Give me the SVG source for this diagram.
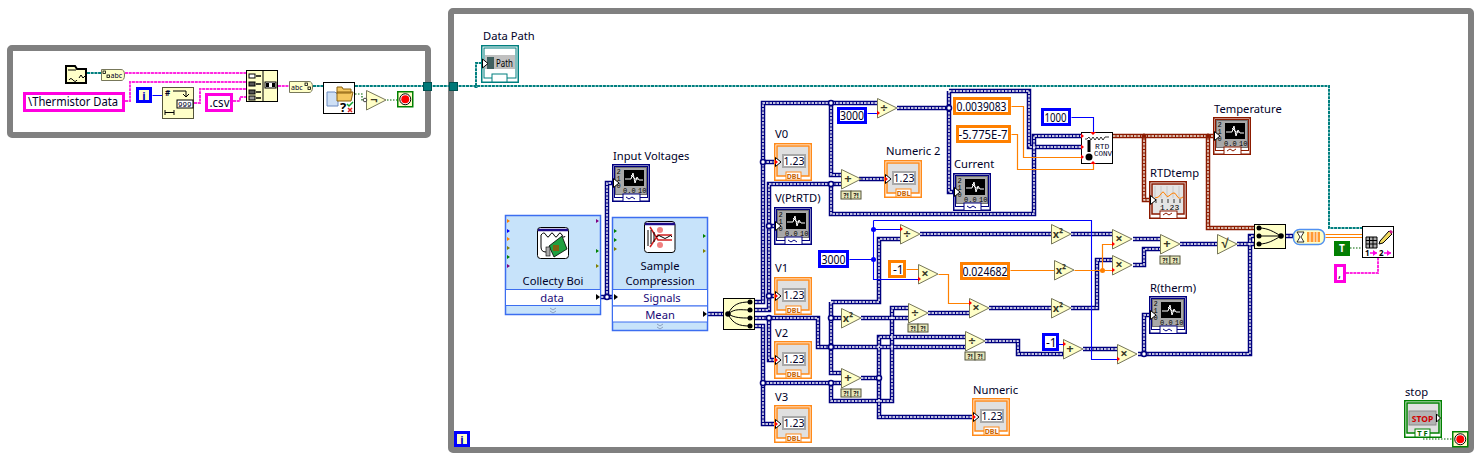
<svg xmlns="http://www.w3.org/2000/svg" width="1481" height="462" viewBox="0 0 1481 462">
<style>
text{font-family:"Noto Sans","Liberation Sans",sans-serif;font-size:11.200px;fill:#000028}
.c{text-anchor:middle}
.frame{fill:none;stroke:#808080;stroke-width:6}
.w{fill:none}
.wo{stroke:#00007f;stroke-width:4.500}
.wi{stroke:#fff;stroke-width:1.400;stroke-dasharray:2.500 1}
.bo{stroke:#8b1a00;stroke-width:4.500}
.bi{stroke:#f4ece0;stroke-width:1.400;stroke-dasharray:2.500 1}
.blue{fill:none;stroke:#0000ff;stroke-width:1.100}
.orange{fill:none;stroke:#ff8000;stroke-width:1.200}
.teal{fill:none;stroke:#007f7f;stroke-width:2;stroke-dasharray:3 .7}
.pink{fill:none;stroke:#ff28e0;stroke-width:2;stroke-dasharray:3 .7}
.green{fill:none;stroke:#006400;stroke-width:1.200;stroke-dasharray:1.500 1.500}
.jn{fill:#fff;stroke:#00007f;stroke-width:1.600}
.jnb{fill:#8b1a00;stroke:#8b1a00}
.jno{fill:#ff8000}
.jnu{fill:#0000ff}
.tri{fill:#ffffc8;stroke:#77775a;stroke-width:1}
.op{font-size:13px;font-weight:bold;fill:#3a3a28;text-anchor:middle}
.sq{font-size:11px;font-weight:bold;fill:#3a3a28;text-anchor:middle}
.cream{fill:#ffffc8;stroke:#000;stroke-width:1}
.white{fill:#fff;stroke:#000;stroke-width:1}
.cb{fill:#fff;stroke:#0000ff;stroke-width:3}
.co{fill:#fff;stroke:#ff8000;stroke-width:3}
.cp{fill:#fff;stroke:#ff00e0;stroke-width:3}
.panel{fill:#c7e3fa;stroke:#3c6ef0;stroke-width:1.500}
.row{fill:#fff;stroke:#3c6ef0;stroke-width:1}
.rowt{fill:#1a0a78;text-anchor:middle}
.tiny{font-size:7px;fill:#000;font-family:"Liberation Mono",monospace}
.q{fill:#e6e6b8;stroke:#55553c;stroke-width:1}
.qt{font-size:7px;font-weight:bold;text-anchor:middle;fill:#222}
.red{fill:#ff0000}
.tun{fill:#007878;stroke:#005050}
.dis{font-size:10.500px;text-anchor:middle}
.dbl{font-size:7px;font-weight:bold;fill:#c86400;text-anchor:middle}
</style>
<defs>
<polygon id="t" class="tri" points="0.5,0.5 20,10 0.5,20"/>
<polygon id="r" class="red" points="0,-2.5 3,0 0,2.5"/>
<g id="qq"><rect class="q" x="0" y="0" width="10" height="8"/><rect class="q" x="10" y="0" width="10" height="8"/><text class="qt" x="5" y="6.5">?!</text><text class="qt" x="15" y="6.5">?!</text></g>
<g id="num">
<rect x="0.75" y="0.75" width="36.5" height="36.5" fill="#fff" stroke="#ff8a1a" stroke-width="1.5"/>
<rect x="3" y="3" width="32" height="30" fill="#e0e0e0" stroke="#ff8a1a" stroke-width="1.5"/>
<rect x="8" y="11" width="24" height="14" fill="#a8a8a8"/>
<rect x="10" y="13" width="20" height="10" fill="#fff"/>
<rect x="12" y="29" width="15" height="8" fill="#fff" stroke="#ff8a1a"/>
<polygon points="1.5,14.5 7,19 1.5,23.5" fill="#fff" stroke="#000"/>
</g>
<g id="scr">
<rect x="3.5" y="3.5" width="31" height="27" fill="#a8a8a8" stroke="#707070"/>
<rect x="12" y="6" width="20" height="16" fill="#000"/>
<path d="M13 15h6l2-6 2 10 2-6 2 3h4M19 11l4 4 3 0" fill="none" stroke="#fff" stroke-width="1"/>
<text class="tiny" x="4.5" y="10">2</text><text class="tiny" x="4.5" y="17">1</text><text class="tiny" x="4.5" y="24">0</text>
<text class="tiny" x="11" y="29">0.0</text><text class="tiny" x="26" y="29">10</text>
<polygon points="1.5,14.5 7,19 1.5,23.5" fill="#fff" stroke="#000"/>
</g>
<g id="graph">
<rect x="0.75" y="0.75" width="36.5" height="36.5" fill="#fff" stroke="#00007f" stroke-width="1.5"/>
<rect x="2.5" y="2.5" width="33" height="31" fill="#fff" stroke="#00007f"/>
<use href="#scr"/>
<rect x="11" y="30" width="17" height="7.5" fill="#fff" stroke="#00007f"/>
<path d="M14 33l3 2 3-2 3 2" fill="none" stroke="#00007f"/>
</g>
<g id="stp"><rect x="0.75" y="0.75" width="15" height="15" fill="#ffffc8" stroke="#008000" stroke-width="1.5"/><circle cx="8.25" cy="8.25" r="5.5" fill="#fff" stroke="#000"/><circle cx="8.25" cy="8.25" r="4" fill="#ff0000"/></g>
<path id="dw" d="M755 302H763V103H877M831 103V175H841M763 162H775M755 310H769V184H841M769 226H775M769 296H775M831 184V214H1034V136H1081M755 318H818V347H965M769 318V360H775M755 326H763V424H775M763 383H841M831 302V373H841M831 302H879V239H900M831 318H841M831 383V401H892V308H908M861 318H908M861 378H879V337H965M879 378V417H973M928 313H969M985 341H1018V354H1063M1083 349H1117M897 108H949M949 91V192H955M949 91H1029V147H1081M859 179H885M920 234H1051M1071 234H1112M989 308H1051M1071 308H1097V260H1112M1133 239H1160M1133 265H1144V249H1160M1180 244H1217M1237 244H1254M1138 354H1250V236H1254M1144 354V315H1152M1286 236H1293M601 297H612M607 297V183H614M708 314H723"/>
<path id="bw" d="M1113 136H1215M1144 136V200H1152M1208 136V228H1254"/>
</defs>

<rect width="1481" height="462" fill="#fff"/>
<g id="frames">
<rect class="frame" x="10" y="48" width="418" height="87" rx="2"/>
<rect class="frame" x="451" y="11" width="1020" height="439" rx="2"/>
</g>

<g id="connectors">
<use href="#dw" class="w wo"/><use href="#dw" class="w wi"/>
<use href="#bw" class="w bo"/><use href="#bw" class="w bi"/>
<path class="teal" d="M87 73H101M313 86H323M355 86H1329V228H1362M476 86V63H484"/>
<path class="pink" d="M125 73H246M125 101H130V82H246M194 103H200V89H246M233 101H240V97H246M278 86H289M1346 273H1378V257"/>
<g transform="translate(.5,.5)">
<path class="blue" d="M152 95H162M849 259H873M873 220V279H918M873 229H900M873 220H1091V359H1117M867 113H877M1071 117H1093V132M1058 344H1063"/>
<path class="orange" d="M906 269H918M938 274H948V303H969M1010 270H1054M1074 270H1112M1102 270V244H1112M1011 106H1023V157H1081M1011 134H1017V169H1093V163M1325 234H1362M1325 237H1362"/>
</g>
<path class="green" d="M355 94H362V100H366M387 100H397M1350 248H1362M1423 439H1452"/>
<circle class="jn" cx="607" cy="297" r="2.500"/><circle class="jn" cx="763" cy="162" r="2.500"/><circle class="jn" cx="831" cy="103" r="2.500"/><circle class="jn" cx="831" cy="184" r="2.500"/><circle class="jn" cx="769" cy="226" r="2.500"/><circle class="jn" cx="769" cy="296" r="2.500"/><circle class="jn" cx="769" cy="318" r="2.500"/><circle class="jn" cx="763" cy="383" r="2.500"/><circle class="jn" cx="831" cy="318" r="2.500"/><circle class="jn" cx="831" cy="347" r="2.500"/><circle class="jn" cx="831" cy="383" r="2.500"/><circle class="jn" cx="879" cy="378" r="2.500"/><circle class="jn" cx="949" cy="108" r="2.500"/><circle class="jn" cx="1144" cy="354" r="2.500"/>
<circle class="jnb" cx="1144" cy="136" r="2"/><circle class="jnb" cx="1208" cy="136" r="2"/>
<circle class="jno" cx="1102.500" cy="270.500" r="2.500"/>
<circle class="jnu" cx="873.500" cy="229.500" r="2.500"/><circle class="jnu" cx="873.500" cy="259.500" r="2.500"/>
<path d="M476 86l-2 2h4z" fill="#007f7f"/>
</g>

<g id="tunnel-out"><rect class="tun" x="423.500" y="82.500" width="8" height="8"/></g>
<g id="tunnel-in"><rect class="tun" x="449.500" y="82.500" width="8" height="8"/></g>

<g id="path-const" transform="translate(65,65)">
<path d="M1 1h9l2 3h9v14H1z" fill="#ffffc8" stroke="#000" stroke-width="2"/>
<path d="M3 5h8M14 13l2-3 2 3 3-3M4 15c3 -5 5 5 8 0" fill="none" stroke="#000"/>
</g>
<g id="path-to-string" transform="translate(101,69)">
<path d="M.5 .5H20q3.500 0 3.500 5.500t-3.500 5.500H.5z" class="tri"/>
<rect x="2" y="2" width="2.500" height="2.500" fill="none" stroke="#000" stroke-width=".8"/><rect x="6" y="6" width="2.500" height="2.500" fill="none" stroke="#000" stroke-width=".8"/>
<text x="9.500" y="9" style="font-size:7px">abc</text>
</g>
<g id="const-thermistor"><rect class="cp" x="24.500" y="93.500" width="99" height="17"/><text x="28" y="106" textLength="90" lengthAdjust="spacingAndGlyphs" style="font-size:12px">\Thermistor Data</text></g>
<g id="loop-i"><rect class="cb" x="137.500" y="88.500" width="13" height="13" style="fill:#ffffc8"/><text class="c" x="144" y="100" style="font-weight:bold;fill:#0000c0">i</text></g>
<g id="format-number" transform="translate(162,87)">
<rect class="cream" x=".5" y=".5" width="31" height="31" style="stroke:#55553c"/>
<text x="3" y="9" style="font-size:8px;font-weight:bold">#</text>
<path d="M11 4h13v5M21 7l3 3 3-3" fill="none" stroke="#000"/>
<rect x="15" y="13" width="16" height="8" fill="#fff" stroke="#000"/>
<text x="16" y="20" style="font-size:7.500px;font-family:'Liberation Mono',monospace">999</text>
<path d="M3 23v5M12 23v5M3 25.500h9" fill="none" stroke="#000"/>
</g>
<g id="const-csv"><rect class="cp" x="206.500" y="94.500" width="25" height="16"/><text x="209.500" y="107" textLength="20" lengthAdjust="spacingAndGlyphs" style="font-size:12px">.csv</text></g>
<g id="build-path" transform="translate(246,70)">
<rect class="cream" x=".5" y=".5" width="31" height="31"/>
<path d="M17 .5v31" stroke="#000"/>
<rect x="3" y="4" width="6" height="4" fill="#fff" stroke="#000"/><rect x="3" y="12" width="6" height="4" fill="#555" stroke="#000"/><rect x="3" y="20" width="6" height="4" fill="#555" stroke="#000"/><rect x="3" y="26" width="6" height="4" fill="#999" stroke="#000"/>
<path d="M10 6h5M10 14h5M10 22h5M10 28h5" stroke="#000" stroke-width="1.500"/>
<rect x="19" y="12" width="11" height="6" fill="#fff" stroke="#000"/>
<path d="M20 13h3v4h-3zM26 13h3v4h-3z" fill="#000"/>
</g>
<g id="string-to-path" transform="translate(289,81)">
<path d="M.5 .5H20q3.500 0 3.500 5.500t-3.500 5.500H.5z" class="tri"/>
<text x="2" y="8.500" style="font-size:7px">abc</text>
<rect x="16" y="2" width="2.500" height="2.500" fill="none" stroke="#000" stroke-width=".8"/><rect x="19" y="6" width="2.500" height="2.500" fill="none" stroke="#000" stroke-width=".8"/>
</g>
<g id="file-dialog" transform="translate(323,82)">
<rect class="white" x=".5" y=".5" width="31" height="31"/>
<path d="M4 10h8l3 3v11H4z" fill="#cfe0f5" stroke="#6a8ac0"/>
<path d="M14 5h5l1 2h8v4H14zM14 17V10h16l-2 9H14z" fill="#f5c860" stroke="#8a6010"/>
<text x="17" y="30" style="font-size:13px;font-weight:bold;fill:#000">?</text>
<path d="M24 22l2 2 4-4" fill="none" stroke="#10a030" stroke-width="1.500"/>
<path d="M25 26l4 4M29 26l-4 4" stroke="#e02020" stroke-width="1.500"/>
</g>
<g id="not" transform="translate(366,90)"><use href="#t"/><circle cx="-1" cy="10" r="1.800" fill="#fff" stroke="#444"/><text class="op" x="8" y="14">¬</text></g>
<g id="stop-seq" transform="translate(397,91)"><use href="#stp"/></g>

<g id="data-path" transform="translate(481,45)">
<text x="2" y="-5">Data Path</text>
<rect x=".75" y=".75" width="36.500" height="36.500" fill="#fff" stroke="#007f7f" stroke-width="1.500"/>
<rect x="3" y="3" width="32" height="30" fill="#fff" stroke="#007f7f"/>
<rect x="4" y="10" width="30" height="14" fill="#c0c0c0"/>
<rect x="6" y="12" width="7" height="12" fill="#406060"/>
<text x="15" y="22" textLength="17" lengthAdjust="spacingAndGlyphs" style="fill:#000;font-size:10px">Path</text>
<rect x="11" y="29" width="15" height="8" fill="#fff" stroke="#007f7f"/>
<polygon points="1.500,14 7,18.500 1.500,23" fill="#fff" stroke="#000"/>
</g>

<g id="collecty-boi">
<rect class="panel" x="505.500" y="215.500" width="95" height="99"/>
<rect class="row" x="505.500" y="289.500" width="95" height="16"/>
<text class="c" x="553" y="285">Collecty Boi</text>
<text class="rowt" x="552" y="302">data</text>
<path d="M596 294l4 3-4 3z" fill="#000"/>
<rect x="537.500" y="227.500" width="31" height="31" rx="3" fill="#fff" stroke="#000"/>
<path d="M538 230h30" stroke="#1c0a88" stroke-width="2.500"/>
<path d="M541 247v-12q3-4 5 0t4 0 4 0 4 0 4 0 3 1" fill="none" stroke="#000"/>
<path d="M549 246l13-10 5 13-13 8z" fill="#20a040" stroke="#000" stroke-width=".8"/>
<rect x="553" y="245" width="6" height="6" fill="#806010"/>
<path d="M541 247q0 5 5 5" fill="none" stroke="#000"/>
<rect x="546" y="247" width="4" height="9" fill="#aaa" stroke="#000" stroke-width=".6"/>
<path d="M507 219l3 2-3 2z" fill="#ff8000"/><path d="M507 229l3 2-3 2z" fill="#0000ff"/><path d="M507 237l3 2-3 2z" fill="#ff8000"/><path d="M507 246l3 2-3 2z" fill="#808000"/><path d="M507 255l3 2-3 2z" fill="#008000"/><path d="M507 264l3 2-3 2z" fill="#800080"/>
<path d="M596 219l3 2-3 2z" fill="#800080"/><path d="M596 249l3 2-3 2z" fill="#008000"/><path d="M596 264l3 2-3 2z" fill="#808000"/>
<path d="M550 308l3 2 3-2M550 311l3 2 3-2" fill="none" stroke="#8ca0c0"/>
</g>
<g id="sample-compression">
<rect class="panel" x="612.500" y="217.500" width="95" height="113"/>
<rect class="row" x="612.500" y="289.500" width="95" height="16.500"/>
<rect class="row" x="612.500" y="306" width="95" height="16"/>
<text class="c" x="660" y="270">Sample</text>
<text class="c" x="660" y="285">Compression</text>
<text class="rowt" x="662" y="302">Signals</text>
<text class="rowt" x="660" y="319">Mean</text>
<path d="M614 294l4 3-4 3z" fill="#000"/><path d="M703 311l4 3-4 3z" fill="#000"/>
<rect x="644.500" y="221.500" width="30.500" height="31" rx="3" fill="#fff" stroke="#000"/>
<path d="M645 224h30" stroke="#1c0a88" stroke-width="2.500"/>
<path d="M650 247l8-12h14M650 227l8 13h14" fill="none" stroke="#d02020" stroke-width="1.500"/>
<path d="M648 230v16M651 230v14M654 232v10" stroke="#000" fill="none"/>
<circle cx="660" cy="230" r="3" fill="#f08080"/><circle cx="660" cy="245" r="3" fill="#f08080"/>
<path d="M656 237q3-3 6 0t6 0 4 0" fill="none" stroke="#000"/>
<path d="M614 229l3 2-3 2z" fill="#008000"/><path d="M614 238l3 2-3 2z" fill="#008000"/><path d="M614 247l3 2-3 2z" fill="#808000"/>
<path d="M703 234l3 2-3 2z" fill="#008000"/><path d="M703 249l3 2-3 2z" fill="#808000"/>
<path d="M657 324l3 2 3-2M657 327l3 2 3-2" fill="none" stroke="#8ca0c0"/>
</g>
<g id="input-voltages" transform="translate(612,164)"><text x="1" y="-4">Input Voltages</text><use href="#graph"/></g>
<g id="split" transform="translate(723,298)">
<rect class="cream" x=".5" y=".5" width="31" height="31"/>
<path d="M5 16C10 6 16 4 27 4M5 16C12 10 18 12 27 12M5 16C12 20 18 20 27 20M5 16C10 26 16 28 27 28" fill="none" stroke="#000"/>
<circle cx="5" cy="16" r="2.800"/><circle cx="27" cy="4" r="2.500"/><circle cx="27" cy="12" r="2.500"/><circle cx="27" cy="20" r="2.500"/><circle cx="27" cy="28" r="2.500"/>
</g>

<g id="v0" transform="translate(774,143)"><text x="1" y="-5">V0</text><use href="#num"/><text class="dis" x="20" y="22">1.23</text><text class="dbl" x="19.500" y="36">DBL</text><use href="#r" x="1" y="19"/></g>
<g id="v-ptrtd" transform="translate(774,207)"><text x="1" y="-5">V(PtRTD)</text><use href="#graph"/></g>
<g id="v1" transform="translate(774,277)"><text x="1" y="-5">V1</text><use href="#num"/><text class="dis" x="20" y="22">1.23</text><text class="dbl" x="19.500" y="36">DBL</text><use href="#r" x="1" y="19"/></g>
<g id="v2" transform="translate(774,341)"><text x="1" y="-4">V2</text><use href="#num"/><text class="dis" x="20" y="22">1.23</text><text class="dbl" x="19.500" y="36">DBL</text><use href="#r" x="1" y="19"/></g>
<g id="v3" transform="translate(774,405)"><text x="1" y="-4">V3</text><use href="#num"/><text class="dis" x="20" y="22">1.23</text><text class="dbl" x="19.500" y="36">DBL</text><use href="#r" x="1" y="19"/></g>
<g id="numeric-2" transform="translate(884,160)"><text x="2" y="-5">Numeric 2</text><use href="#num"/><text class="dis" x="20" y="22">1.23</text><text class="dbl" x="19.500" y="36">DBL</text><use href="#r" x="1" y="19"/></g>
<g id="numeric" transform="translate(972,398)"><text x="1" y="-4">Numeric</text><use href="#num"/><text class="dis" x="20" y="22">1.23</text><text class="dbl" x="19.500" y="36">DBL</text><use href="#r" x="1" y="19"/></g>
<g id="current" transform="translate(953,173)"><text x="1" y="-5">Current</text><use href="#graph"/></g>
<g id="r-therm" transform="translate(1149,296)"><text x="1" y="-4">R(therm)</text><use href="#graph"/></g>
<g id="temperature" transform="translate(1213,117)"><text x="1" y="-4">Temperature</text>
<rect x=".75" y=".75" width="36.500" height="36.500" fill="#fff" stroke="#8b1a00" stroke-width="1.500"/>
<rect x="2.500" y="2.500" width="33" height="31" fill="#fff" stroke="#8b1a00"/>
<use href="#scr"/>
<rect x="11" y="30" width="17" height="7.500" fill="#fff" stroke="#8b1a00"/>
<path d="M14 34l3-2 3 2 3-2" fill="none" stroke="#8b1a00"/>
</g>
<g id="rtdtemp" transform="translate(1149,181)"><text x="1" y="-4">RTDtemp</text>
<rect x=".75" y=".75" width="36.500" height="36.500" fill="#fff" stroke="#8b1a00" stroke-width="1.500"/>
<rect x="3" y="3" width="32" height="30" fill="#e4e4e4" stroke="#8b1a00" stroke-width="1.500"/>
<path d="M6 5v12M12 5v12M18 5v12M24 5v12M30 5v12" stroke="#c8c8c8"/>
<path d="M6 17q4 0 6-4t4 0 4 2 4-3 4 3 6 1" fill="none" stroke="#ff8000"/>
<path d="M7 18v4M13 18v4M19 18v4M25 18v4M31 18v4" stroke="#333"/>
<text class="tiny" x="11" y="29" style="font-size:8px">1.23</text>
<rect x="11" y="30" width="17" height="7.500" fill="#fff" stroke="#8b1a00"/>
<path d="M14 34l3-2 3 2 3-2" fill="none" stroke="#8b1a00"/>
<polygon points="1.500,14.500 7,19 1.500,23.500" fill="#fff" stroke="#000"/>
</g>

<g id="const-3000-a"><rect class="cb" x="838.500" y="108.500" width="27" height="14"/><text x="840" y="120" textLength="24" lengthAdjust="spacingAndGlyphs" style="font-size:12px">3000</text></g>
<g id="const-3000-b"><rect class="cb" x="819.500" y="251.500" width="28" height="15"/><text x="821.500" y="264" textLength="24" lengthAdjust="spacingAndGlyphs" style="font-size:12px">3000</text></g>
<g id="const-neg1-a"><rect class="co" x="889.500" y="261.500" width="15" height="15"/><text x="893" y="274" style="font-size:12px">-1</text></g>
<g id="const-neg1-b"><rect class="cb" x="1043.500" y="334.500" width="14" height="15"/><text x="1046" y="347" style="font-size:12px">-1</text></g>
<g id="const-0024682"><rect class="co" x="961.500" y="263.500" width="47" height="15"/><text x="962.500" y="275.500" textLength="45" lengthAdjust="spacingAndGlyphs" style="font-size:12px">0.024682</text></g>
<g id="const-00039083"><rect class="co" x="954.500" y="98.500" width="55" height="15"/><text x="956.500" y="110.500" textLength="50" lengthAdjust="spacingAndGlyphs" style="font-size:12px">0.0039083</text></g>
<g id="const-5775"><rect class="co" x="957.500" y="126.500" width="52" height="15"/><text x="958.500" y="138.500" textLength="49" lengthAdjust="spacingAndGlyphs" style="font-size:12px">-5.775E-7</text></g>
<g id="const-1000"><rect class="cb" x="1042.500" y="109.500" width="27" height="15"/><text x="1044.500" y="121.500" textLength="22" lengthAdjust="spacingAndGlyphs" style="font-size:12px">1000</text></g>

<g id="div-1" transform="translate(877,98)"><use href="#t"/><text class="op" x="7" y="14">÷</text><use href="#r" x="0" y="15"/></g>
<g id="add-1" transform="translate(841,169)"><use href="#t"/><text class="op" x="7" y="14">+</text><use href="#qq" y="22"/></g>
<g id="div-2" transform="translate(900,224)"><use href="#t"/><text class="op" x="7" y="14">÷</text><use href="#r" x="0" y="5"/></g>
<g id="mul-1" transform="translate(918,264)"><use href="#t"/><text class="op" x="7" y="14">×</text><use href="#r" x="0" y="15"/></g>
<g id="sq-1" transform="translate(841,308)"><use href="#t"/><text class="sq" x="7" y="14">x²</text></g>
<g id="div-3" transform="translate(908,303)"><use href="#t"/><text class="op" x="7" y="14">÷</text><use href="#qq" y="21"/></g>
<g id="mul-2" transform="translate(969,298)"><use href="#t"/><text class="op" x="7" y="14">×</text><use href="#r" x="0" y="5"/></g>
<g id="add-2" transform="translate(841,368)"><use href="#t"/><text class="op" x="7" y="14">+</text><use href="#qq" y="21"/></g>
<g id="div-4" transform="translate(965,331)"><use href="#t"/><text class="op" x="7" y="14">÷</text><use href="#qq" y="21"/></g>
<g id="add-3" transform="translate(1063,339)"><use href="#t"/><text class="op" x="7" y="14">+</text><use href="#r" x="0" y="5"/></g>
<g id="sq-2" transform="translate(1051,224)"><use href="#t"/><text class="sq" x="7" y="14">x²</text></g>
<g id="sq-3" transform="translate(1054,260)"><use href="#t"/><text class="sq" x="7" y="14">x²</text></g>
<g id="sq-4" transform="translate(1051,298)"><use href="#t"/><text class="sq" x="7" y="14">x²</text></g>
<g id="mul-3" transform="translate(1112,229)"><use href="#t"/><text class="op" x="7" y="14">×</text><use href="#r" x="0" y="15"/></g>
<g id="mul-4" transform="translate(1112,255)"><use href="#t"/><text class="op" x="7" y="14">×</text><use href="#r" x="0" y="15"/></g>
<g id="mul-5" transform="translate(1117,344)"><use href="#t"/><text class="op" x="7" y="14">×</text><use href="#r" x="0" y="15"/></g>
<g id="add-4" transform="translate(1160,234)"><use href="#t"/><text class="op" x="7" y="14">+</text><use href="#qq" y="22"/></g>
<g id="sqrt" transform="translate(1217,234)"><use href="#t"/><text class="op" x="8" y="14">√</text></g>

<g id="rtd-conv" transform="translate(1081,132)">
<rect class="white" x=".5" y=".5" width="31" height="31"/>
<path d="M4 7h2l2-2 2 3 2-3 2 3 2-3 2 3 2-3 2 3 2-3h4" fill="none" stroke="#000" stroke-width=".8"/>
<path d="M8 8v12" stroke="#000" stroke-width="3"/><circle cx="8" cy="25" r="3.500"/>
<text x="14" y="17" style="font-size:8px;font-family:'Liberation Mono',monospace">RTD</text>
<text x="13" y="24" style="font-size:7.500px;font-family:'Liberation Mono',monospace">CONV</text>
<use href="#r" x="0" y="4"/><use href="#r" x="0" y="15"/><use href="#r" x="0" y="25"/><path d="M9 0l3 3 3-3zM9 32l3-3 3 3z" class="red"/>
</g>
<g id="merge" transform="translate(1254,224)">
<rect class="cream" x=".5" y=".5" width="31" height="24"/>
<path d="M5 4C14 4 20 8 27 12M5 12H27M5 20C14 20 20 16 27 12" fill="none" stroke="#000"/>
<circle cx="5" cy="4" r="2.500"/><circle cx="5" cy="12" r="2.500"/><circle cx="5" cy="20" r="2.500"/><circle cx="27" cy="12" r="2.800"/>
</g>
<g id="from-ddt" transform="translate(1293,229)">
<rect x=".5" y=".5" width="31" height="15" rx="6" fill="#ffffc8" stroke="#5090f0" stroke-width="1.500"/>
<path d="M4 3h7l-3 5 3 5H4l3-5z" fill="#fff" stroke="#000" stroke-width=".8"/>
<rect x="14" y="3" width="13" height="10" fill="#ff9a30"/>
<path d="M17 3v10M21 3v10M24 3v10" stroke="#fff"/>
</g>
<g id="const-true"><rect x="1335.500" y="242.500" width="13" height="12" fill="#0a7a0a" stroke="#008000" stroke-width="3"/><text class="c" x="1342" y="252" style="font-weight:bold;font-size:10px;fill:#fff">T</text></g>
<g id="const-comma"><rect class="cp" x="1335.500" y="265.500" width="9" height="16"/><text x="1338" y="278">,</text></g>
<g id="write-spreadsheet" transform="translate(1362,226)">
<rect class="white" x=".5" y=".5" width="31" height="31"/>
<path d="M4 11h11v11H4zM4 14.500h11M4 18h11M7.500 11v11M11 11v11" fill="#aaa" stroke="#000"/>
<path d="M18 15l9-10 3 3-9 9-4 1z" fill="#f0d860" stroke="#000"/><path d="M27 5l2-1 2 2-2 2z" fill="#d02090"/>
<text x="3" y="30" style="font-size:8px;font-weight:bold;fill:#000">1</text><path d="M8 27h7" stroke="#ff00e0" stroke-width="1.500"/><path d="M11 24l4 3-4 3z" fill="#ff00e0"/>
<text x="17" y="30" style="font-size:8px;font-weight:bold;fill:#000">2</text><path d="M22 27h7" stroke="#ff00e0" stroke-width="1.500"/><path d="M25 24l4 3-4 3z" fill="#ff00e0"/>
</g>
<g id="stop-control" transform="translate(1404,400)"><text x="1" y="-4">stop</text>
<rect x=".75" y=".75" width="36.500" height="36.500" fill="#fff" stroke="#008000" stroke-width="1.500"/>
<rect x="3" y="3" width="32" height="30" fill="#e0e0e0" stroke="#008000" stroke-width="1.500"/>
<rect x="5" y="11" width="27" height="14" fill="#b4b4b4" stroke="#8c8c8c"/>
<text class="c" x="18.500" y="21.500" style="font-size:8.500px;font-weight:bold;fill:#d00000">STOP</text>
<polygon points="32.500,14 36.500,18 32.500,22" fill="#fff" stroke="#000"/>
<rect x="11" y="29" width="15" height="8" fill="#fff" stroke="#008000"/>
<text class="c" x="18.500" y="36" style="font-size:7.500px;font-weight:bold;fill:#006400">T F</text>
</g>
<g id="stop-loop" transform="translate(1452,431)"><use href="#stp"/></g>
<g id="loop-index"><rect class="cb" x="455.500" y="432.500" width="13" height="13" style="fill:#ffffc8"/><text class="c" x="462" y="444" style="font-weight:bold;fill:#0000c0">i</text></g>
</svg>
